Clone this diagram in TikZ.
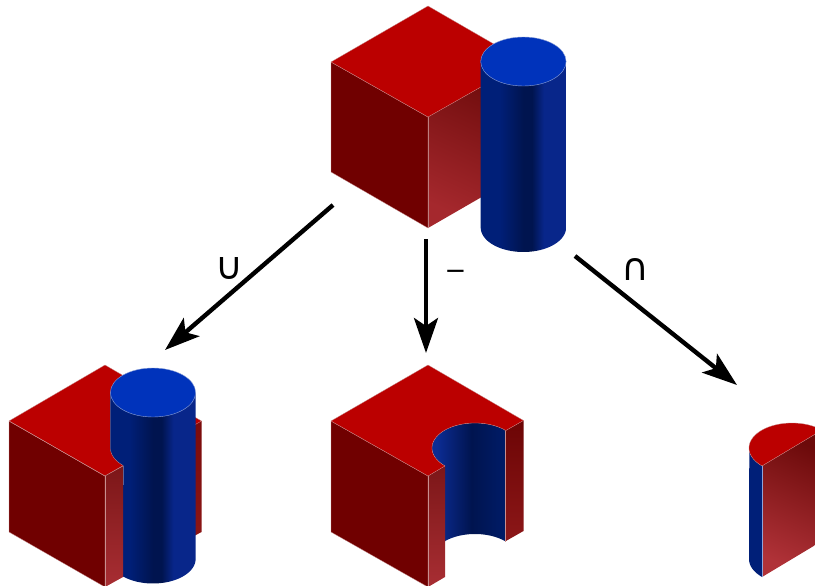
\documentclass[tikz,border=0pt]{standalone}
\usepackage{fontspec}
\setmainfont{DejaVu Sans}
\usetikzlibrary{arrows.meta}
\definecolor{topred}{HTML}{BB0000}
\definecolor{leftred}{HTML}{700000}
\definecolor{capblue}{HTML}{0033BB}
\definecolor{sideblue}{HTML}{001F78}
\definecolor{edgeRed}{HTML}{C88E8E}
\definecolor{edgeBlue}{HTML}{8FA3D8}
\definecolor{blueDark}{HTML}{00144F}
\definecolor{blueMid}{HTML}{001A62}
\definecolor{blueBright}{HTML}{0C2C94}
\definecolor{bandBlue}{HTML}{08268A}
\definecolor{gradTop}{HTML}{6C0A0A}
\definecolor{gradBot}{HTML}{A5282D}
\definecolor{gradBotLight}{HTML}{B03238}
\definecolor{frontTop}{HTML}{7C1618}
\definecolor{frontBot}{HTML}{A82E33}
\definecolor{backTop}{HTML}{7A0B0B}
\definecolor{backBot}{HTML}{8C1616}
\definecolor{rightTop}{HTML}{6C0505}
\definecolor{rightBot}{HTML}{8C1718}
\pgfdeclarehorizontalshading{cylshade}{100bp}{color(0bp)=(sideblue);color(36bp)=(sideblue);color(50bp)=(blueDark);color(55bp)=(blueDark);color(62bp)=(bandBlue);color(76bp)=(bandBlue);color(92bp)=(sideblue);color(100bp)=(sideblue)}
\pgfdeclarehorizontalshading{holeshade}{100bp}{color(0bp)=(blueBright);color(28bp)=(blueBright);color(52bp)=(blueDark);color(70bp)=(blueMid);color(100bp)=(sideblue)}
\tikzset{
  x=1pt,y=-1pt,
  topface/.style={fill=topred,draw=edgeRed,line width=0.3pt,line join=round},
  leftface/.style={fill=leftred,draw=edgeRed,line width=0.3pt,line join=round},
  bigface/.style={shading=axis,top color=gradTop,bottom color=#1,shading angle=-25},
  stripface/.style 2 args={shading=axis,top color=#1,bottom color=#2},
  edgeline/.style={draw=edgeRed,line width=0.3pt,line join=round},
  cylbody/.style={shading=cylshade},
  holewall/.style={shading=holeshade},
  capface/.style={fill=capblue,draw=edgeBlue,line width=0.4pt},
  oparrow/.style={line width=4.4pt,-{Stealth[length=35pt,width=24pt,inset=8pt]}},
  oplabel/.style={font=\fontsize{38}{38}\selectfont,inner sep=0pt},
  minuslabel/.style={font=\fontsize{26}{26}\selectfont,inner sep=0pt},
}
\begin{document}
\begin{tikzpicture}
\clip (0,0) rectangle (815,586);
% ---------- source: cube and cylinder
\path[bigface=gradBot] (428,117) -- (525,62) -- (525,172) -- (428,228) -- cycle;
\path[edgeline] (428,117) -- (428,228);
\path[leftface] (331,62) -- (428,117) -- (428,228) -- (331,172) -- cycle;
\path[topface] (428,6) -- (525,62) -- (428,117) -- (331,62) -- cycle;
\path[cylbody] (480.7,61.5) -- (480.7,227.5) -- plot[domain=180:0,samples=50] ({523.4+42.7*cos(\x)},{227.5+24.5*sin(\x)}) -- (566.1,61.5) -- cycle;
\path[capface] (523.4,61.5) ellipse [x radius=42.7,y radius=24.5];
% ---------- union
\path[stripface={backTop}{backBot}] (183,431) -- (201.5,421) -- (201.5,532) -- (183,542) -- cycle;
\path[leftface] (9,421) -- (105,476) -- (105,587) -- (9,532) -- cycle;
\path[topface] (105,365) -- (201.5,421) -- (105,476) -- (9,421) -- cycle;
\path[cylbody] (110.4,392.5) -- (110.4,448) -- plot[domain=180:134.2,samples=16] ({153+42.6*cos(\x)},{448+24.5*sin(\x)}) -- (123,577) -- plot[domain=137:0,samples=40] ({153+42.6*cos(\x)},{559+24.5*sin(\x)}) -- (195.6,392.5) -- cycle;
\path[draw=edgeRed,line width=0.3pt] (110.4,392.5) -- (110.4,448) -- plot[domain=180:134.2,samples=16] ({153+42.6*cos(\x)},{448+24.5*sin(\x)});
\path[capface] (153,392.5) ellipse [x radius=42.6,y radius=24.5];
\path[stripface={frontTop}{frontBot}] (105,476) -- (123,466) -- (123,577) -- (105,587) -- cycle;
\path[edgeline] (105,476) -- (105,587);
\path[edgeline] (9,421) -- (105,476) -- (123,466);
% ---------- difference
\path[holewall] plot[domain=-45.8:-225.8,samples=60] ({475+43*cos(\x)},{448+25*sin(\x)}) -- (445,541.5) -- plot[domain=-134.2:-45.8,samples=40] ({475+43*cos(\x)},{559+25*sin(\x)}) -- cycle;
\path[stripface={rightTop}{rightBot}] (505,431) -- (523.5,420.5) -- (523.5,531) -- (505,541.5) -- cycle;
\path[edgeline] (505,431) -- (505,541.5);
\path[leftface] (331,421) -- (428,476) -- (428,587) -- (331,532) -- cycle;
\path[stripface={frontTop}{frontBot}] (428,476) -- (445,466) -- (445,577) -- (428,587) -- cycle;
\path[edgeline] (428,476) -- (428,587);
\path[topface] (428,365) -- (523.5,420.5) -- (505,431) -- plot[domain=-45.8:-225.8,samples=60] ({475+43*cos(\x)},{448+25*sin(\x)}) -- (428,476) -- (331,421) -- cycle;
% ---------- intersection
\path[fill=sideblue] (749.3,448) -- plot[domain=180:134.2,samples=16] ({792+43*cos(\x)},{448+25*sin(\x)}) -- (762,577) -- plot[domain=134.2:180,samples=16] ({792+43*cos(\x)},{559+25*sin(\x)}) -- cycle;
\path[bigface=gradBotLight] (762,466) -- (822,430) -- (822,541) -- (762,577) -- cycle;
\path[draw=edgeBlue,line width=0.5pt] (762,466) -- (762,577);
\path[fill=topred,draw=edgeRed,line width=0.3pt] plot[domain=-45.8:-225.8,samples=60] ({792+43*cos(\x)},{448+25*sin(\x)}) -- cycle;
% ---------- arrows
\coordinate (srcL) at (333,205);
\coordinate (dstL) at (165,350);
\coordinate (srcM) at (426,239);
\coordinate (dstM) at (426,353);
\coordinate (srcR) at (575,256);
\coordinate (dstR) at (737,385);
\draw[oparrow] (srcL) -- (dstL);
\draw[oparrow] (srcM) -- (dstM);
\draw[oparrow] (srcR) -- (dstR);
\node[oplabel] (labU) at (229,268.5) {∪};
\node[minuslabel] (labM) at (455.5,275) {−};
\node[oplabel] (labI) at (635,269) {∩};
\end{tikzpicture}
\end{document}
